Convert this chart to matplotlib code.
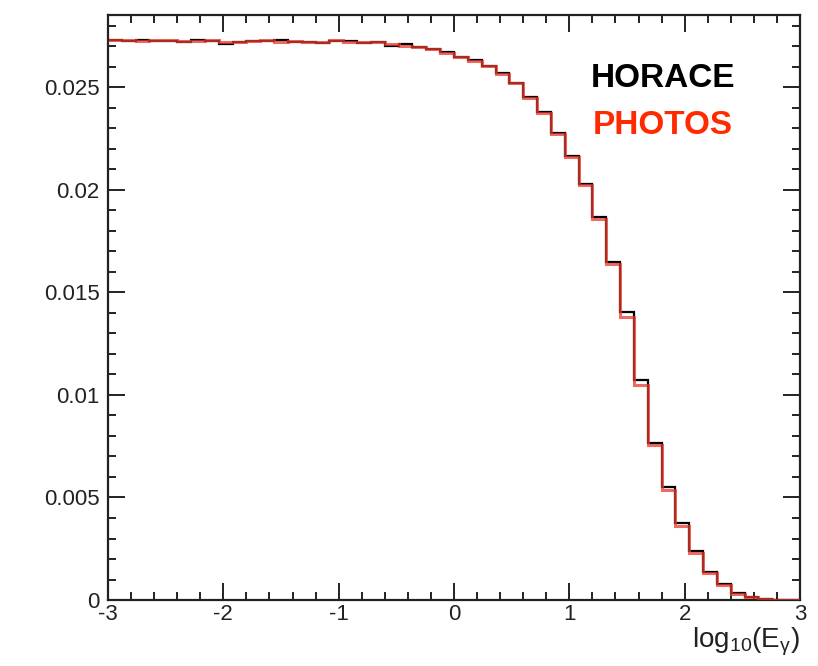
import numpy as np
import matplotlib
matplotlib.use('Agg')
import matplotlib.pyplot as plt
from matplotlib.ticker import MultipleLocator, FuncFormatter

plt.rcParams['mathtext.fontset'] = 'custom'
plt.rcParams['mathtext.rm'] = 'Liberation Sans'
plt.rcParams['mathtext.it'] = 'Liberation Sans:italic'

# bin edges: 50 bins from -3 to 3
x_min, x_max, n_bins = -3, 3, 50

horace = [0.02728, 0.02727, 0.02731, 0.02725, 0.02727, 0.02722, 0.02730, 0.02726,
          0.02712, 0.02718, 0.02726, 0.02724, 0.02728, 0.02718, 0.02722, 0.02716,
          0.02724, 0.02726, 0.02714, 0.02718, 0.02702, 0.02708, 0.02694, 0.02688,
          0.02672, 0.02645, 0.02632, 0.02605, 0.02568, 0.02522, 0.02452, 0.02378,
          0.02276, 0.02162, 0.02030, 0.01865, 0.01650, 0.01405, 0.01072, 0.00767,
          0.00553, 0.00375, 0.00240, 0.00138, 0.00077, 0.00033, 0.00014, 0.00005,
          0.00002, 0.00001]

photos = [0.02730, 0.02729, 0.02726, 0.02728, 0.02732, 0.02726, 0.02724, 0.02730,
          0.02718, 0.02722, 0.02723, 0.02728, 0.02722, 0.02726, 0.02718, 0.02722,
          0.02728, 0.02720, 0.02720, 0.02722, 0.02708, 0.02702, 0.02698, 0.02684,
          0.02668, 0.02648, 0.02628, 0.02602, 0.02566, 0.02518, 0.02448, 0.02376,
          0.02272, 0.02158, 0.02022, 0.01858, 0.01640, 0.01380, 0.01048, 0.00755,
          0.00537, 0.00362, 0.00230, 0.00132, 0.00074, 0.00032, 0.00014, 0.00006,
          0.00002, 0.00001]

labels = ['HORACE', 'PHOTOS']
colors = ['black', '#ff2a00']

edges = np.linspace(x_min, x_max, n_bins + 1)

fig = plt.figure(figsize=(8.18, 6.66), dpi=100)
ax = fig.add_axes([0.132, 0.099, 0.846, 0.878])

ax.stairs(horace, edges, color='black', lw=1.6, baseline=None, zorder=3)
ax.stairs(photos, edges, color='#e8392f', lw=2.2, alpha=0.75, baseline=None, zorder=4)

ax.set_xlim(x_min, x_max)
ax.set_ylim(0, 0.0285)

ax.xaxis.set_major_locator(MultipleLocator(1))
ax.xaxis.set_minor_locator(MultipleLocator(0.2))
ax.yaxis.set_major_locator(MultipleLocator(0.005))
ax.yaxis.set_minor_locator(MultipleLocator(0.001))
ax.yaxis.set_major_formatter(FuncFormatter(lambda v, p: '%g' % round(v, 4)))
ax.xaxis.set_major_formatter(FuncFormatter(lambda v, p: '%g' % v))

ax.tick_params(which='both', direction='in', top=True, right=True,
               colors='#222222', width=1.4)
ax.tick_params(which='major', length=12, labelsize=16, pad=6)
ax.tick_params(which='minor', length=6)
ax.tick_params(axis='x', which='major', pad=3)
for lab in ax.get_xticklabels() + ax.get_yticklabels():
    lab.set_family('Liberation Sans')
for s in ax.spines.values():
    s.set_linewidth(1.6)
    s.set_color('#222222')

ax.set_xlabel(r'log$_{\mathrm{10}}$(E$_{\mathrm{γ}}$)', fontsize=20,
              family='Liberation Sans', color='#222222', loc='right', labelpad=0)

ax.text(0.802, 0.892, labels[0], transform=ax.transAxes, ha='center', va='center',
        fontsize=24, fontweight='bold', family='Liberation Sans', color=colors[0])
ax.text(0.802, 0.812, labels[1], transform=ax.transAxes, ha='center', va='center',
        fontsize=24, fontweight='bold', family='Liberation Sans', color=colors[1])

plt.savefig('out.png', dpi=100)
